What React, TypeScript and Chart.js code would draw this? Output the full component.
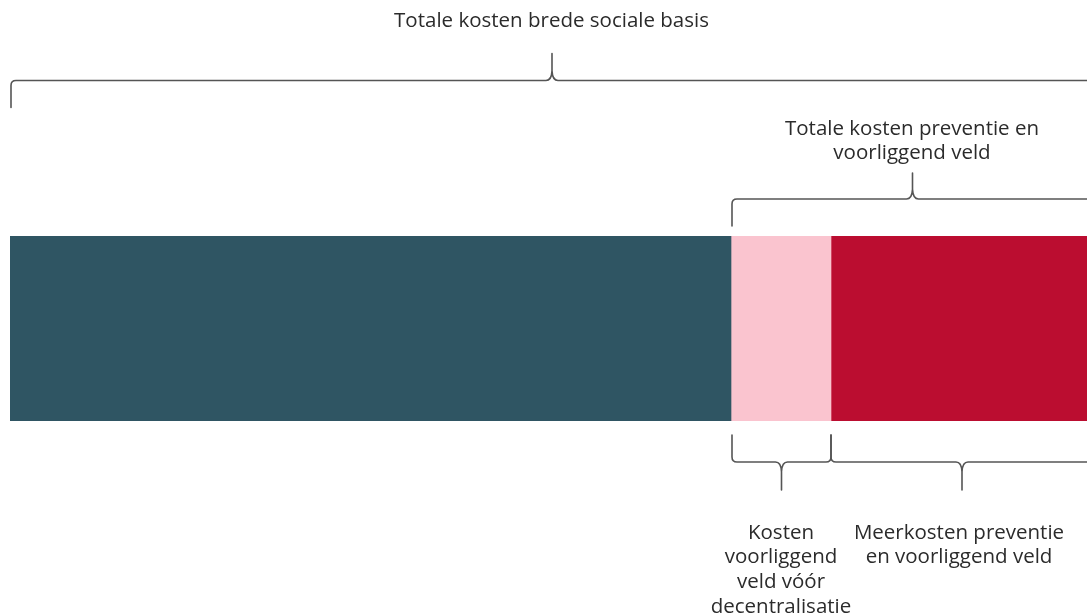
import React, { useEffect, useRef } from "react";
import { Chart, registerables } from "chart.js";

Chart.register(...registerables);

// ---- Data ----
const categories = ["Brede sociale basis"];
const segmentLabels = [
  "Overige kosten brede sociale basis",
  "Kosten voorliggend veld vóór decentralisatie",
  "Meerkosten preventie en voorliggend veld",
];
const segmentValues = [72.1, 10.0, 26.2];
const axisMax = 107.7; // visible part of the scale (the chart is cropped at the right)

const topBraceLabel1 = ["Totale kosten brede sociale basis"];
const topBraceLabel2 = ["Totale kosten preventie en", "voorliggend veld"];
const bottomBraceLabel1 = ["Kosten", "voorliggend", "veld vóór", "decentralisatie"];
const bottomBraceLabel2 = ["Meerkosten preventie", "en voorliggend veld"];

// ---- Styles ----
const segmentColors = ["#2F5563", "#FAC4CF", "#BB0D30"];
const FONT = '20.5px "Open Sans", "Noto Sans", sans-serif';
const TEXT_COLOR = "#2b2b2b";
const BRACE_COLOR = "#555555";

function drawBrace(
  ctx: CanvasRenderingContext2D,
  x1: number,
  x2: number,
  yLine: number,
  endLen: number,
  tipLen: number,
  dir: 1 | -1 // 1: ends hang down, tip up (above the bar); -1: ends up, tip down
) {
  const r = 5;
  const rt = 6;
  const xm = (x1 + x2) / 2;
  const endY = yLine + dir * endLen;
  const tipY = yLine - dir * tipLen;
  ctx.beginPath();
  ctx.moveTo(x1, endY);
  ctx.lineTo(x1, yLine + dir * r);
  ctx.quadraticCurveTo(x1, yLine, x1 + r, yLine);
  ctx.lineTo(xm - rt, yLine);
  ctx.quadraticCurveTo(xm - 0.5, yLine, xm, yLine - dir * rt * 1.6);
  ctx.lineTo(xm, tipY);
  ctx.moveTo(xm, yLine - dir * rt * 1.6);
  ctx.quadraticCurveTo(xm + 0.5, yLine, xm + rt, yLine);
  ctx.lineTo(x2 - r, yLine);
  ctx.quadraticCurveTo(x2, yLine, x2, yLine + dir * r);
  ctx.lineTo(x2, endY);
  ctx.stroke();
}

function drawLines(ctx: CanvasRenderingContext2D, lines: string[], x: number, y0: number, lh: number) {
  lines.forEach((t, i) => ctx.fillText(t, x, y0 + i * lh));
}

const bracePlugin = {
  id: "braces",
  afterDraw(chart: any) {
    const ctx: CanvasRenderingContext2D = chart.ctx;
    const xs = chart.scales.x;
    const c0 = 0;
    const c1 = segmentValues[0];
    const c2 = segmentValues[0] + segmentValues[1];
    const total = segmentValues.reduce((a, b) => a + b, 0);
    const px = (v: number) => xs.getPixelForValue(v);

    ctx.save();
    ctx.strokeStyle = BRACE_COLOR;
    ctx.lineWidth = 1.6;
    ctx.lineCap = "round";
    ctx.lineJoin = "round";

    // top braces
    drawBrace(ctx, px(c0) + 1, px(total), 80.5, 27, 27, 1);
    drawBrace(ctx, px(c1) + 1, px(total), 199, 27, 26, 1);
    // bottom braces
    drawBrace(ctx, px(c1) + 1, px(c2), 462, 27, 28, -1);
    drawBrace(ctx, px(c2), px(total), 462, 27, 28, -1);

    ctx.fillStyle = TEXT_COLOR;
    ctx.font = FONT;
    ctx.textAlign = "center";
    ctx.textBaseline = "middle";
    drawLines(ctx, topBraceLabel1, (px(c0) + px(total)) / 2, 21, 24.6);
    drawLines(ctx, topBraceLabel2, (px(c1) + px(total)) / 2, 129, 24.6);
    drawLines(ctx, bottomBraceLabel1, (px(c1) + px(c2)) / 2, 533, 24.6);
    drawLines(ctx, bottomBraceLabel2, (px(c2) + px(total)) / 2 - 3, 533, 24.6);
    ctx.restore();
  },
};

export default function App() {
  const ref = useRef<HTMLCanvasElement | null>(null);

  useEffect(() => {
    if (!ref.current) return;
    const chart = new Chart(ref.current, {
      type: "bar",
      data: {
        labels: categories,
        datasets: segmentValues.map((v, i) => ({
          label: segmentLabels[i],
          data: [v],
          backgroundColor: segmentColors[i],
          borderWidth: 0,
          barPercentage: 1,
          categoryPercentage: 1,
        })),
      },
      options: {
        indexAxis: "y",
        animation: false,
        responsive: false,
        maintainAspectRatio: false,
        devicePixelRatio: 1,
        layout: { padding: { left: 10, right: 0, top: 236, bottom: 195 } },
        scales: {
          x: { stacked: true, min: 0, max: axisMax, display: false },
          y: { stacked: true, display: false },
        },
        plugins: {
          legend: { display: false },
          tooltip: { enabled: false },
          title: { display: false },
        },
      },
      plugins: [bracePlugin],
    } as any);
    if ((document as any).fonts && (document as any).fonts.load) {
      (document as any).fonts.load(FONT).then(() => chart.draw()).catch(() => {});
    }
    return () => chart.destroy();
  }, []);

  return (
    <div style={{ position: "absolute", left: 0, top: 0, width: 1087, height: 616, overflow: "hidden", background: "#fff" }}>
      <canvas ref={ref} width={1087} height={616} style={{ display: "block" }} />
    </div>
  );
}
